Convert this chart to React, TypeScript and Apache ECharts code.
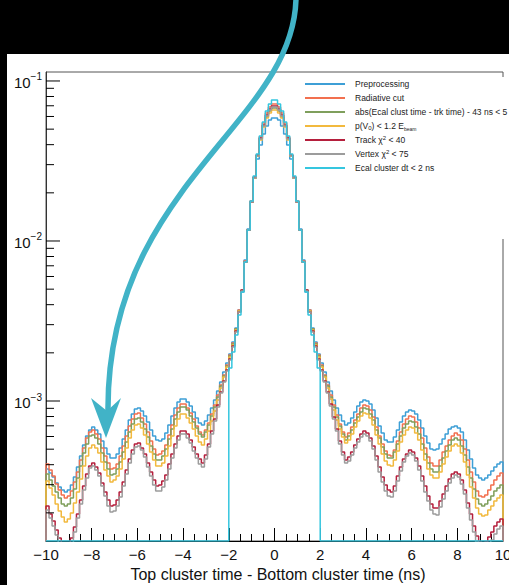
import React, { useEffect, useRef } from "react";
import * as echarts from "echarts";

// ---- histogram binning: 150 bins from -10 to 10 ns ----
const BIN_LOW = -10;
const BIN_HIGH = 10;
const BIN_COUNT = 150;
const BIN_WIDTH = (BIN_HIGH - BIN_LOW) / BIN_COUNT;

// ---- axis ranges / ticks ----
const Y_MIN = 1.334e-4;
const Y_MAX = 0.1138;
const X_TICK_INTERVAL = 2;
const Y_MAJOR_TICKS = [1e-3, 1e-2, 1e-1];
const Y_MINOR_TICKS = [
  2e-4, 3e-4, 4e-4, 5e-4, 6e-4, 7e-4, 8e-4, 9e-4,
  2e-3, 3e-3, 4e-3, 5e-3, 6e-3, 7e-3, 8e-3, 9e-3,
  2e-2, 3e-2, 4e-2, 5e-2, 6e-2, 7e-2, 8e-2, 9e-2,
];

const SERIES_NAMES = [
  "Preprocessing",
  "Radiative cut",
  "abs(Ecal clust time - trk time) - 43 ns < 5",
  "p(V0) < 1.2 Ebeam",
  "Track χ2 < 40",
  "Vertex χ2 < 75",
  "Ecal cluster dt < 2 ns",
];
const SERIES_COLORS = ["#3d9fd6", "#f2704f", "#7f9f5c", "#f2b93e", "#b51f3d", "#9c9c9c", "#35c6df"];

// bin contents (left tail 51 | core 48 | right tail 51)
const preprocessing = [
  0.3758e-3, 0.3548e-3, 0.3350e-3, 0.3072e-3, 0.2901e-3, 0.2778e-3, 0.2699e-3, 0.2778e-3, 0.2985e-3, 0.3350e-3,
  0.3868e-3, 0.4531e-3, 0.5309e-3, 0.6043e-3, 0.6587e-3, 0.6879e-3, 0.6587e-3, 0.6219e-3, 0.5622e-3, 0.5085e-3,
  0.4663e-3, 0.4403e-3, 0.4403e-3, 0.4663e-3, 0.5085e-3, 0.5788e-3, 0.6587e-3, 0.7606e-3, 0.8292e-3, 0.8912e-3,
  0.9042e-3, 0.8658e-3, 0.8058e-3, 0.7391e-3, 0.6587e-3, 0.6043e-3, 0.5704e-3, 0.5622e-3, 0.5788e-3, 0.6309e-3,
  0.7080e-3, 0.8058e-3, 0.9042e-3, 0.9857e-3, 1.029e-3, 1.029e-3, 0.9857e-3, 0.9306e-3, 0.8534e-3, 0.7830e-3,
  0.7285e-3,
  0.7080e-3, 0.7498e-3, 0.8175e-3, 0.9042e-3, 1.0145e-3, 1.155e-3, 1.314e-3, 1.518e-3, 1.728e-3, 1.967e-3,
  2.337e-3, 2.859e-3, 3.705e-3, 4.800e-3, 7.606e-3, 11.885e-3, 17.78e-3, 24.76e-3, 32.55e-3, 39.81e-3,
  46.63e-3, 52.33e-3, 57.04e-3, 58.72e-3,
  58.72e-3, 57.04e-3, 52.33e-3, 46.63e-3, 39.81e-3, 32.55e-3, 24.76e-3, 17.78e-3, 11.885e-3, 7.606e-3,
  4.800e-3, 3.705e-3, 2.859e-3, 2.337e-3, 1.967e-3, 1.728e-3, 1.518e-3, 1.314e-3, 1.155e-3, 1.0145e-3,
  0.9042e-3, 0.8175e-3, 0.7498e-3, 0.7080e-3,
  0.7285e-3, 0.7830e-3, 0.8534e-3, 0.9306e-3, 0.9857e-3, 1.0145e-3, 1.000e-3, 0.9578e-3, 0.8783e-3, 0.7830e-3,
  0.6978e-3, 0.6309e-3, 0.5704e-3, 0.5542e-3, 0.5542e-3, 0.5957e-3, 0.6587e-3, 0.7391e-3, 0.8058e-3, 0.8534e-3,
  0.8783e-3, 0.8658e-3, 0.8292e-3, 0.7606e-3, 0.6780e-3, 0.6043e-3, 0.5463e-3, 0.5012e-3, 0.4939e-3, 0.5012e-3,
  0.5385e-3, 0.5788e-3, 0.6219e-3, 0.6683e-3, 0.6879e-3, 0.6978e-3, 0.6780e-3, 0.6400e-3, 0.5704e-3, 0.4939e-3,
  0.4340e-3, 0.3813e-3, 0.3448e-3, 0.3302e-3, 0.3208e-3, 0.3302e-3, 0.3448e-3, 0.3651e-3, 0.3868e-3, 0.4038e-3,
  0.4156e-3,
];
const radiativeCut = [
  0.4038e-3, 0.3704e-3, 0.3398e-3, 0.3028e-3, 0.2778e-3, 0.2585e-3, 0.2476e-3, 0.2548e-3, 0.2738e-3, 0.3117e-3,
  0.3599e-3, 0.4277e-3, 0.5085e-3, 0.5872e-3, 0.6400e-3, 0.6587e-3, 0.6219e-3, 0.5788e-3, 0.5085e-3, 0.4531e-3,
  0.4097e-3, 0.3758e-3, 0.3813e-3, 0.4038e-3, 0.4531e-3, 0.5233e-3, 0.6043e-3, 0.6978e-3, 0.7718e-3, 0.8292e-3,
  0.8412e-3, 0.7830e-3, 0.7181e-3, 0.6400e-3, 0.5622e-3, 0.5012e-3, 0.4597e-3, 0.4663e-3, 0.4869e-3, 0.5309e-3,
  0.6131e-3, 0.7080e-3, 0.8175e-3, 0.9042e-3, 0.9578e-3, 0.9578e-3, 0.9042e-3, 0.8412e-3, 0.7718e-3, 0.6978e-3,
  0.6400e-3,
  0.6131e-3, 0.6587e-3, 0.7285e-3, 0.8292e-3, 0.9441e-3, 1.090e-3, 1.259e-3, 1.454e-3, 1.679e-3, 1.939e-3,
  2.304e-3, 2.818e-3, 3.705e-3, 4.869e-3, 7.497e-3, 11.72e-3, 17.78e-3, 25.12e-3, 34.47e-3, 44.67e-3,
  54.63e-3, 63.09e-3, 68.79e-3, 71.80e-3,
  71.80e-3, 68.79e-3, 63.09e-3, 54.63e-3, 44.67e-3, 34.47e-3, 25.12e-3, 17.78e-3, 11.72e-3, 7.497e-3,
  4.869e-3, 3.705e-3, 2.818e-3, 2.304e-3, 1.939e-3, 1.679e-3, 1.454e-3, 1.259e-3, 1.090e-3, 0.9441e-3,
  0.8175e-3, 0.7181e-3, 0.6400e-3, 0.5957e-3,
  0.6309e-3, 0.6879e-3, 0.7606e-3, 0.8292e-3, 0.9042e-3, 0.9441e-3, 0.9306e-3, 0.8783e-3, 0.7943e-3, 0.6879e-3,
  0.6043e-3, 0.5385e-3, 0.4869e-3, 0.4597e-3, 0.4531e-3, 0.4939e-3, 0.5622e-3, 0.6400e-3, 0.7181e-3, 0.7718e-3,
  0.8058e-3, 0.7943e-3, 0.7391e-3, 0.6780e-3, 0.5872e-3, 0.5085e-3, 0.4467e-3, 0.4097e-3, 0.3924e-3, 0.3924e-3,
  0.4277e-3, 0.4799e-3, 0.5233e-3, 0.5704e-3, 0.6043e-3, 0.6309e-3, 0.6131e-3, 0.5704e-3, 0.5012e-3, 0.4277e-3,
  0.3599e-3, 0.3117e-3, 0.2738e-3, 0.2548e-3, 0.2512e-3, 0.2585e-3, 0.2778e-3, 0.2985e-3, 0.3208e-3, 0.3398e-3,
  0.3548e-3,
];
const clusterTrackTime = [
  0.3497e-3, 0.3208e-3, 0.2943e-3, 0.2699e-3, 0.2476e-3, 0.2271e-3, 0.2207e-3, 0.2271e-3, 0.2476e-3, 0.2818e-3,
  0.3302e-3, 0.3924e-3, 0.4731e-3, 0.5385e-3, 0.6043e-3, 0.6131e-3, 0.5872e-3, 0.5385e-3, 0.4731e-3, 0.4156e-3,
  0.3758e-3, 0.3448e-3, 0.3497e-3, 0.3758e-3, 0.4156e-3, 0.4799e-3, 0.5542e-3, 0.6400e-3, 0.7181e-3, 0.7718e-3,
  0.7830e-3, 0.7391e-3, 0.6683e-3, 0.5957e-3, 0.5233e-3, 0.4663e-3, 0.4277e-3, 0.4277e-3, 0.4531e-3, 0.5012e-3,
  0.5788e-3, 0.6683e-3, 0.7718e-3, 0.8534e-3, 0.9173e-3, 0.9173e-3, 0.8783e-3, 0.8058e-3, 0.7391e-3, 0.6780e-3,
  0.6219e-3,
  0.5957e-3, 0.6400e-3, 0.7080e-3, 0.8058e-3, 0.9173e-3, 1.059e-3, 1.241e-3, 1.433e-3, 1.655e-3, 1.911e-3,
  2.271e-3, 2.818e-3, 3.652e-3, 4.940e-3, 7.390e-3, 11.72e-3, 17.53e-3, 24.76e-3, 33.98e-3, 43.40e-3,
  52.33e-3, 59.56e-3, 64.93e-3, 67.81e-3,
  67.81e-3, 64.93e-3, 59.56e-3, 52.33e-3, 43.40e-3, 33.98e-3, 24.76e-3, 17.53e-3, 11.72e-3, 7.390e-3,
  4.940e-3, 3.652e-3, 2.818e-3, 2.271e-3, 1.911e-3, 1.655e-3, 1.433e-3, 1.241e-3, 1.059e-3, 0.9173e-3,
  0.7943e-3, 0.6978e-3, 0.6219e-3, 0.5704e-3,
  0.6043e-3, 0.6587e-3, 0.7285e-3, 0.7943e-3, 0.8534e-3, 0.9042e-3, 0.8912e-3, 0.8292e-3, 0.7606e-3, 0.6587e-3,
  0.5872e-3, 0.5158e-3, 0.4663e-3, 0.4403e-3, 0.4403e-3, 0.4799e-3, 0.5385e-3, 0.6043e-3, 0.6780e-3, 0.7181e-3,
  0.7498e-3, 0.7391e-3, 0.6879e-3, 0.6219e-3, 0.5385e-3, 0.4663e-3, 0.4097e-3, 0.3758e-3, 0.3599e-3, 0.3599e-3,
  0.3924e-3, 0.4403e-3, 0.4869e-3, 0.5309e-3, 0.5704e-3, 0.5872e-3, 0.5704e-3, 0.5233e-3, 0.4597e-3, 0.3868e-3,
  0.3302e-3, 0.2818e-3, 0.2441e-3, 0.2271e-3, 0.2207e-3, 0.2271e-3, 0.2405e-3, 0.2548e-3, 0.2738e-3, 0.2859e-3,
  0.2985e-3,
];
const v0Momentum = [
  0.3162e-3, 0.2859e-3, 0.2585e-3, 0.2271e-3, 0.2053e-3, 0.1884e-3, 0.1753e-3, 0.1830e-3, 0.1995e-3, 0.2304e-3,
  0.2699e-3, 0.3255e-3, 0.3924e-3, 0.4531e-3, 0.5085e-3, 0.5309e-3, 0.5085e-3, 0.4731e-3, 0.4156e-3, 0.3704e-3,
  0.3398e-3, 0.3117e-3, 0.3208e-3, 0.3398e-3, 0.3758e-3, 0.4340e-3, 0.5085e-3, 0.5872e-3, 0.6587e-3, 0.7080e-3,
  0.7181e-3, 0.6780e-3, 0.6131e-3, 0.5385e-3, 0.4799e-3, 0.4277e-3, 0.3924e-3, 0.3924e-3, 0.4097e-3, 0.4531e-3,
  0.5233e-3, 0.6043e-3, 0.6978e-3, 0.7718e-3, 0.8292e-3, 0.8292e-3, 0.7830e-3, 0.7285e-3, 0.6683e-3, 0.6043e-3,
  0.5542e-3,
  0.5309e-3, 0.5788e-3, 0.6493e-3, 0.7498e-3, 0.8658e-3, 1.0145e-3, 1.206e-3, 1.413e-3, 1.631e-3, 1.884e-3,
  2.239e-3, 2.778e-3, 3.652e-3, 4.869e-3, 7.390e-3, 11.72e-3, 17.53e-3, 24.76e-3, 33.98e-3, 42.78e-3,
  51.58e-3, 58.72e-3, 63.09e-3, 65.87e-3,
  65.87e-3, 63.09e-3, 58.72e-3, 51.58e-3, 42.78e-3, 33.98e-3, 24.76e-3, 17.53e-3, 11.72e-3, 7.390e-3,
  4.869e-3, 3.652e-3, 2.778e-3, 2.239e-3, 1.884e-3, 1.631e-3, 1.413e-3, 1.206e-3, 1.029e-3, 0.8783e-3,
  0.7606e-3, 0.6683e-3, 0.5957e-3, 0.5463e-3,
  0.5704e-3, 0.6219e-3, 0.6879e-3, 0.7498e-3, 0.8058e-3, 0.8412e-3, 0.8292e-3, 0.7830e-3, 0.7080e-3, 0.6131e-3,
  0.5385e-3, 0.4663e-3, 0.4216e-3, 0.3981e-3, 0.3924e-3, 0.4277e-3, 0.4869e-3, 0.5542e-3, 0.6131e-3, 0.6587e-3,
  0.6879e-3, 0.6780e-3, 0.6309e-3, 0.5704e-3, 0.4939e-3, 0.4277e-3, 0.3758e-3, 0.3448e-3, 0.3302e-3, 0.3302e-3,
  0.3599e-3, 0.4038e-3, 0.4467e-3, 0.4869e-3, 0.5233e-3, 0.5385e-3, 0.5233e-3, 0.4731e-3, 0.4156e-3, 0.3448e-3,
  0.2901e-3, 0.2476e-3, 0.2144e-3, 0.1967e-3, 0.1911e-3, 0.1939e-3, 0.2083e-3, 0.2207e-3, 0.2371e-3, 0.2476e-3,
  0.2585e-3,
];
const trackChi2 = [
  0.2207e-3, 0.1967e-3, 0.1778e-3, 0.1562e-3, 0.1392e-3, 0.1277e-3, 0.1189e-3, 0.1241e-3, 0.1392e-3, 0.1631e-3,
  0.1967e-3, 0.2405e-3, 0.2943e-3, 0.3497e-3, 0.3924e-3, 0.4097e-3, 0.3868e-3, 0.3548e-3, 0.3072e-3, 0.2699e-3,
  0.2405e-3, 0.2207e-3, 0.2239e-3, 0.2405e-3, 0.2699e-3, 0.3117e-3, 0.3704e-3, 0.4340e-3, 0.4939e-3, 0.5385e-3,
  0.5463e-3, 0.5085e-3, 0.4663e-3, 0.4097e-3, 0.3599e-3, 0.3208e-3, 0.2943e-3, 0.2985e-3, 0.3162e-3, 0.3448e-3,
  0.4038e-3, 0.4663e-3, 0.5385e-3, 0.6043e-3, 0.6493e-3, 0.6493e-3, 0.6219e-3, 0.5704e-3, 0.5158e-3, 0.4663e-3,
  0.4340e-3,
  0.4097e-3, 0.4597e-3, 0.5385e-3, 0.6493e-3, 0.7718e-3, 0.9441e-3, 1.138e-3, 1.334e-3, 1.562e-3, 1.830e-3,
  2.207e-3, 2.738e-3, 3.599e-3, 4.940e-3, 7.390e-3, 11.72e-3, 17.53e-3, 25.12e-3, 34.47e-3, 44.03e-3,
  53.09e-3, 61.31e-3, 66.84e-3, 69.78e-3,
  69.78e-3, 66.84e-3, 61.31e-3, 53.09e-3, 44.03e-3, 34.47e-3, 25.12e-3, 17.53e-3, 11.72e-3, 7.390e-3,
  4.940e-3, 3.599e-3, 2.738e-3, 2.207e-3, 1.830e-3, 1.562e-3, 1.334e-3, 1.138e-3, 0.9578e-3, 0.7943e-3,
  0.6683e-3, 0.5622e-3, 0.4799e-3, 0.4277e-3,
  0.4467e-3, 0.4799e-3, 0.5309e-3, 0.5788e-3, 0.6219e-3, 0.6493e-3, 0.6309e-3, 0.5872e-3, 0.5233e-3, 0.4531e-3,
  0.3868e-3, 0.3350e-3, 0.2985e-3, 0.2778e-3, 0.2699e-3, 0.2943e-3, 0.3398e-3, 0.3868e-3, 0.4340e-3, 0.4663e-3,
  0.4939e-3, 0.4799e-3, 0.4403e-3, 0.3924e-3, 0.3398e-3, 0.2943e-3, 0.2548e-3, 0.2271e-3, 0.2144e-3, 0.2144e-3,
  0.2371e-3, 0.2622e-3, 0.2943e-3, 0.3255e-3, 0.3497e-3, 0.3599e-3, 0.3497e-3, 0.3208e-3, 0.2778e-3, 0.2304e-3,
  0.1967e-3, 0.1655e-3, 0.1433e-3, 0.1314e-3, 0.1277e-3, 0.1314e-3, 0.1413e-3, 0.1518e-3, 0.1655e-3, 0.1753e-3,
  0.1830e-3,
];
const vertexChi2 = [
  0.2083e-3, 0.1857e-3, 0.1655e-3, 0.1454e-3, 0.1296e-3, 0.1171e-3, 0.1090e-3, 0.1138e-3, 0.1277e-3, 0.1518e-3,
  0.1857e-3, 0.2271e-3, 0.2778e-3, 0.3302e-3, 0.3813e-3, 0.3924e-3, 0.3704e-3, 0.3398e-3, 0.2943e-3, 0.2548e-3,
  0.2207e-3, 0.2024e-3, 0.2053e-3, 0.2207e-3, 0.2512e-3, 0.2943e-3, 0.3497e-3, 0.4097e-3, 0.4663e-3, 0.5158e-3,
  0.5233e-3, 0.4939e-3, 0.4467e-3, 0.3868e-3, 0.3398e-3, 0.2985e-3, 0.2738e-3, 0.2738e-3, 0.2901e-3, 0.3208e-3,
  0.3758e-3, 0.4403e-3, 0.5085e-3, 0.5704e-3, 0.6219e-3, 0.6219e-3, 0.5872e-3, 0.5463e-3, 0.4869e-3, 0.4403e-3,
  0.4038e-3,
  0.3868e-3, 0.4340e-3, 0.5158e-3, 0.6219e-3, 0.7498e-3, 0.9173e-3, 1.122e-3, 1.314e-3, 1.540e-3, 1.804e-3,
  2.175e-3, 2.699e-3, 3.599e-3, 4.869e-3, 7.390e-3, 11.72e-3, 17.53e-3, 24.76e-3, 33.98e-3, 43.40e-3,
  52.33e-3, 60.43e-3, 65.87e-3, 68.79e-3,
  68.79e-3, 65.87e-3, 60.43e-3, 52.33e-3, 43.40e-3, 33.98e-3, 24.76e-3, 17.53e-3, 11.72e-3, 7.390e-3,
  4.869e-3, 3.599e-3, 2.699e-3, 2.175e-3, 1.804e-3, 1.540e-3, 1.314e-3, 1.122e-3, 0.9306e-3, 0.7718e-3,
  0.6493e-3, 0.5385e-3, 0.4597e-3, 0.4097e-3,
  0.4216e-3, 0.4597e-3, 0.5085e-3, 0.5542e-3, 0.5957e-3, 0.6219e-3, 0.6043e-3, 0.5622e-3, 0.5012e-3, 0.4277e-3,
  0.3599e-3, 0.3117e-3, 0.2738e-3, 0.2548e-3, 0.2512e-3, 0.2738e-3, 0.3162e-3, 0.3651e-3, 0.4156e-3, 0.4531e-3,
  0.4731e-3, 0.4597e-3, 0.4216e-3, 0.3704e-3, 0.3162e-3, 0.2699e-3, 0.2371e-3, 0.2083e-3, 0.1967e-3, 0.1939e-3,
  0.2175e-3, 0.2441e-3, 0.2738e-3, 0.3072e-3, 0.3302e-3, 0.3448e-3, 0.3350e-3, 0.3028e-3, 0.2622e-3, 0.2144e-3,
  0.1804e-3, 0.1518e-3, 0.1314e-3, 0.1189e-3, 0.1138e-3, 0.1171e-3, 0.1259e-3, 0.1353e-3, 0.1475e-3, 0.1585e-3,
  0.1655e-3,
];
const ecalClusterDt = [
  0, 0, 0, 0, 0, 0, 0, 0, 0, 0,
  0, 0, 0, 0, 0, 0, 0, 0, 0, 0,
  0, 0, 0, 0, 0, 0, 0, 0, 0, 0,
  0, 0, 0, 0, 0, 0, 0, 0, 0, 0,
  0, 0, 0, 0, 0, 0, 0, 0, 0, 0,
  0, 0, 0, 0, 0, 0, 0, 0, 0, 0,
  1.608e-3, 2.024e-3, 2.585e-3, 3.447e-3, 4.800e-3, 7.390e-3, 11.72e-3, 17.78e-3, 25.48e-3, 34.98e-3,
  45.32e-3, 55.42e-3, 64.93e-3, 71.80e-3, 76.06e-3,
  76.06e-3, 71.80e-3, 64.93e-3, 55.42e-3, 45.32e-3, 34.98e-3, 25.48e-3, 17.78e-3, 11.72e-3, 7.390e-3,
  4.800e-3, 3.447e-3, 2.585e-3, 2.024e-3, 1.608e-3,
  0, 0, 0, 0, 0, 0, 0, 0, 0, 0,
  0, 0, 0, 0, 0, 0, 0, 0, 0, 0,
  0, 0, 0, 0, 0, 0, 0, 0, 0, 0,
  0, 0, 0, 0, 0, 0, 0, 0, 0, 0,
  0, 0, 0, 0, 0, 0, 0, 0, 0, 0,
  0, 0, 0, 0, 0, 0, 0, 0, 0, 0,
];

const SERIES_VALUES = [preprocessing, radiativeCut, clusterTrackTime, v0Momentum, trackChi2, vertexChi2, ecalClusterDt];

const FONT = "'Liberation Sans', Arial, Helvetica, sans-serif";
const ARROW_COLOR = "#41b3c7";

const LEGEND_LABELS: Record<string, string> = {
  "p(V0) < 1.2 Ebeam": "p(V{sub|0}) < 1.2 E{subs|beam}",
  "Track χ2 < 40": "Track χ{sup|2} < 40",
  "Vertex χ2 < 75": "Vertex χ{sup|2} < 75",
};

// histogram outline: empty bins sit on the bottom of the frame, closed at both ends
function histOutline(values: number[]): [number, number][] {
  const floor = (v: number) => (v > 0 ? v : Y_MIN);
  const pts: [number, number][] = [[BIN_LOW, Y_MIN]];
  values.forEach((v, i) => {
    pts.push([+(BIN_LOW + i * BIN_WIDTH).toFixed(5), floor(v)]);
  });
  pts.push([BIN_HIGH, floor(values[values.length - 1])]);
  pts.push([BIN_HIGH, Y_MIN]);
  return pts;
}

function buildOption() {
  const lineSeries = SERIES_NAMES.map((name, idx) => ({
    type: "line",
    name,
    data: histOutline(SERIES_VALUES[idx]),
    step: "end",
    symbol: "none",
    showSymbol: false,
    color: SERIES_COLORS[idx],
    lineStyle: { width: 1.5, color: SERIES_COLORS[idx] },
    clip: true,
    silent: true,
  }));

  const tickData = [
    ...Y_MAJOR_TICKS.map((v) => [BIN_LOW, v, 14]),
    ...Y_MINOR_TICKS.map((v) => [BIN_LOW, v, 8]),
  ];

  const tickSeries = {
    type: "custom",
    name: "yticks",
    silent: true,
    clip: false,
    z: 5,
    data: tickData,
    encode: { x: 0, y: 1 },
    renderItem: (_params: any, api: any) => {
      const p = api.coord([api.value(0), api.value(1)]);
      const len = api.value(2);
      return {
        type: "line",
        shape: { x1: p[0], y1: p[1], x2: p[0] + len, y2: p[1] },
        style: { stroke: "#000", lineWidth: 1 },
      };
    },
  };

  return {
    animation: false,
    backgroundColor: "transparent",
    grid: {
      left: 46,
      right: 6,
      top: 72,
      bottom: 44,
      show: true,
      borderColor: "#555",
      borderWidth: 1,
      backgroundColor: "transparent",
      containLabel: false,
      outerBoundsMode: "none",
    },
    legend: {
      data: SERIES_NAMES,
      orient: "vertical",
      left: 303,
      top: 77,
      padding: [2, 10, 66, 2],
      itemWidth: 40,
      itemHeight: 2,
      itemGap: 4,
      icon: "rect",
      backgroundColor: "#fff",
      selectedMode: false,
      formatter: (name: string) => LEGEND_LABELS[name] ?? name,
      textStyle: {
        fontFamily: FONT,
        fontSize: 8.5,
        color: "#222",
        lineHeight: 10,
        padding: [0, 0, 0, 5],
        rich: {
          sub: { fontFamily: FONT, fontSize: 6, color: "#222", lineHeight: 6, verticalAlign: "bottom" },
          subs: { fontFamily: FONT, fontSize: 5, color: "#222", lineHeight: 5, verticalAlign: "bottom" },
          sup: { fontFamily: FONT, fontSize: 6, color: "#222", lineHeight: 6, verticalAlign: "top" },
        },
      },
    },
    xAxis: {
      type: "value",
      min: BIN_LOW,
      max: BIN_HIGH,
      interval: X_TICK_INTERVAL,
      name: "Top cluster time - Bottom cluster time (ns)",
      nameLocation: "middle",
      nameGap: 19,
      nameTextStyle: { fontFamily: FONT, fontSize: 16, color: "#111", padding: [0, 0, 0, 7] },
      axisLine: { show: true, onZero: false, lineStyle: { color: "#000", width: 1 } },
      axisTick: { show: true, inside: true, length: 13, lineStyle: { color: "#000", width: 1 } },
      minorTick: { show: true, splitNumber: 4, length: 7, lineStyle: { color: "#000", width: 1 } },
      splitLine: { show: false },
      minorSplitLine: { show: false },
      axisLabel: {
        fontFamily: FONT,
        fontSize: 15,
        color: "#111",
        margin: 6,
        formatter: (v: number) => String(v).replace("-", "\u2212"),
      },
    },
    yAxis: {
      type: "log",
      logBase: 10,
      min: Y_MIN,
      max: Y_MAX,
      axisLine: { show: true, onZero: false, lineStyle: { color: "#333", width: 1 } },
      axisTick: { show: false },
      splitLine: { show: false },
      axisLabel: {
        margin: 4,
        formatter: (v: number) => {
          const e = Math.log10(v);
          const r = Math.round(e);
          if (Math.abs(e - r) > 1e-6) return "";
          return `{b|10}{s|${r < 0 ? "\u2212" : ""}${Math.abs(r)}}`;
        },
        rich: {
          b: { fontFamily: FONT, fontSize: 15, color: "#111", lineHeight: 18, verticalAlign: "bottom" },
          s: { fontFamily: FONT, fontSize: 10, color: "#111", lineHeight: 10, verticalAlign: "top" },
        },
      },
    },
    series: [...lineSeries, tickSeries],
    graphic: {
      elements: [
        {
          type: "bezierCurve",
          z: 100,
          silent: true,
          shape: { x1: 296, y1: -2, cpx1: 294, cpy1: 125, cpx2: 106, cpy2: 185, x2: 108, y2: 412 },
          style: { stroke: ARROW_COLOR, lineWidth: 5.5, fill: null },
        },
        {
          type: "polygon",
          z: 100,
          silent: true,
          shape: { points: [[91, 398], [107, 411], [121, 398], [106, 438]] },
          style: { fill: ARROW_COLOR },
        },
      ],
    },
  };
}

export default function App() {
  const ref = useRef<HTMLDivElement>(null);
  useEffect(() => {
    if (!ref.current) return;
    const chart = echarts.init(ref.current, null, { renderer: "svg" });
    chart.setOption(buildOption() as any);
    return () => chart.dispose();
  }, []);
  return (
    <div style={{ position: "fixed", left: 0, top: 0, width: 509, height: 585, background: "#000", overflow: "hidden" }}>
      <div style={{ position: "absolute", left: 7, top: 54, right: 0, bottom: 0, background: "#fff" }} />
      <div ref={ref} style={{ position: "absolute", left: 0, top: 0, width: 509, height: 585 }} />
    </div>
  );
}
